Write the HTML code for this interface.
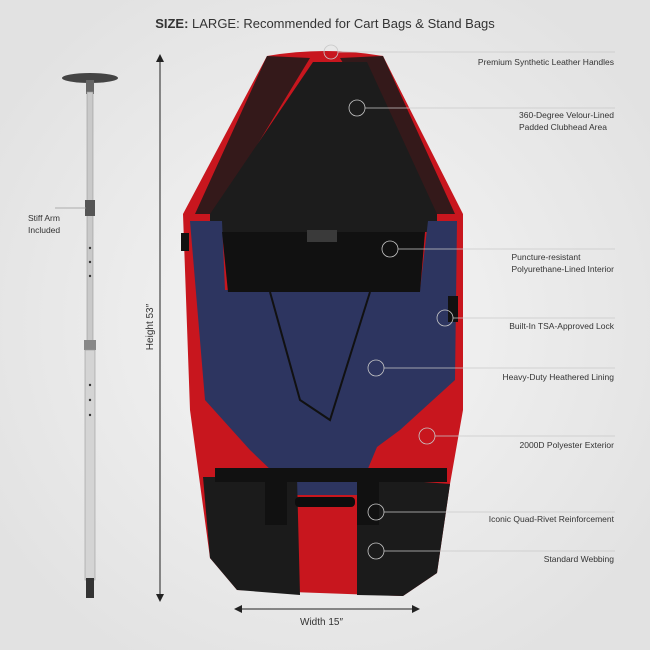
<!DOCTYPE html>
<html><head><style>
body{margin:0;width:650px;height:650px;background:#ebebeb;overflow:hidden;font-family:"Liberation Sans",sans-serif;}
.t{position:absolute;font-size:8.5px;color:#333;line-height:11.5px;right:36px;text-align:left}
</style></head><body>
<svg width="650" height="650" style="position:absolute;left:0;top:0">
<defs><radialGradient id="bg" cx="50%" cy="50%" r="60%"><stop offset="0" stop-color="#f6f6f6"/><stop offset="1" stop-color="#e2e2e2"/></radialGradient></defs>
<rect width="650" height="650" fill="url(#bg)"/>
<!-- pole -->
<ellipse cx="90" cy="78" rx="28" ry="5" fill="#444"/>
<rect x="86" y="80" width="8" height="14" fill="#666"/>
<rect x="87" y="92" width="6" height="250" fill="#c9c9c9" stroke="#999" stroke-width="0.6"/>
<rect x="85" y="200" width="10" height="16" fill="#555"/>
<rect x="84" y="340" width="12" height="10" fill="#888"/>
<rect x="85" y="350" width="10" height="230" fill="#d4d4d4" stroke="#999" stroke-width="0.6"/>
<rect x="86" y="578" width="8" height="20" fill="#333"/>
<g fill="#333"><circle cx="90" cy="248" r="1.2"/><circle cx="90" cy="262" r="1.2"/><circle cx="90" cy="276" r="1.2"/><circle cx="90" cy="385" r="1.2"/><circle cx="90" cy="400" r="1.2"/><circle cx="90" cy="415" r="1.2"/></g>
<line x1="55" y1="208" x2="86" y2="208" stroke="#999" stroke-width="0.7"/>
<!-- height arrow -->
<line x1="160" y1="56" x2="160" y2="600" stroke="#222" stroke-width="1"/>
<path d="M156,62 L160,54 L164,62Z M156,594 L160,602 L164,594Z" fill="#222"/>
<!-- width arrow -->
<line x1="236" y1="609" x2="418" y2="609" stroke="#222" stroke-width="1"/>
<path d="M242,605 L234,609 L242,613Z M412,605 L420,609 L412,613Z" fill="#222"/>
<!-- bag -->
<path d="M267,56 Q325,46 383,56 L463,214 L463,410 L450,484 L437,573 L403,596 L237,590 L210,558 L190,410 L183,214Z" fill="#c8161e"/>
<path d="M267,56 L310,58 L215,214 L195,214Z M383,56 L340,58 L435,214 L455,214Z" fill="#1a1a1a" opacity="0.85"/>
<path d="M313,62 L367,62 L437,214 L437,232 L210,232 L210,214Z" fill="#1c1c1c"/>
<path d="M190,221 L222,221 L225,290 L420,290 L428,221 L457,221 L455,380 L400,430 L377,447 L357,495 L297,495 L250,450 L205,400Z" fill="#2d3560"/>
<path d="M222,232 L425,232 L420,292 L228,292Z" fill="#111"/>
<rect x="307" y="230" width="30" height="12" fill="#3a3a3a"/>
<path d="M270,292 L300,400 L330,420 L370,292" fill="none" stroke="#111" stroke-width="2"/>
<path d="M203,477 L297,477 L300,595 L237,590 L210,558Z M357,477 L450,484 L437,573 L403,596 L357,595Z" fill="#1b1b1b"/>
<rect x="215" y="468" width="232" height="14" fill="#111"/>
<rect x="265" y="480" width="22" height="45" fill="#111"/>
<rect x="357" y="480" width="22" height="45" fill="#111"/>
<rect x="295" y="497" width="60" height="10" rx="4" fill="#0d0d0d"/>
<rect x="181" y="233" width="8" height="18" fill="#111"/>
<rect x="448" y="296" width="10" height="26" fill="#111"/>
<!-- callouts -->
<g stroke="#c8c8c8" stroke-width="0.8" fill="none">
<circle cx="331" cy="52" r="7"/><line x1="338" y1="52" x2="615" y2="52"/>
<circle cx="357" cy="108" r="8"/><line x1="365" y1="108" x2="615" y2="108"/>
<circle cx="390" cy="249" r="8"/><line x1="398" y1="249" x2="615" y2="249"/>
<circle cx="445" cy="318" r="8"/><line x1="453" y1="318" x2="615" y2="318"/>
<circle cx="376" cy="368" r="8"/><line x1="384" y1="368" x2="615" y2="368"/>
<circle cx="427" cy="436" r="8"/><line x1="435" y1="436" x2="615" y2="436"/>
<circle cx="376" cy="512" r="8"/><line x1="384" y1="512" x2="615" y2="512"/>
<circle cx="376" cy="551" r="8"/><line x1="384" y1="551" x2="615" y2="551"/>
</g>
<text x="153" y="327" transform="rotate(-90 153 327)" text-anchor="middle" font-family="Liberation Sans" font-size="10" fill="#333">Height 53″</text>
</svg>
<div style="position:absolute;top:16px;left:0;width:650px;text-align:center;font-size:13px;color:#333"><b>SIZE:</b> LARGE: Recommended for Cart Bags &amp; Stand Bags</div>
<div class="t" style="top:57px">Premium Synthetic Leather Handles</div>
<div class="t" style="top:110px">360-Degree Velour-Lined<br>Padded Clubhead Area</div>
<div class="t" style="top:252px">Puncture-resistant<br>Polyurethane-Lined Interior</div>
<div class="t" style="top:321px">Built-In TSA-Approved Lock</div>
<div class="t" style="top:372px">Heavy-Duty Heathered Lining</div>
<div class="t" style="top:440px">2000D Polyester Exterior</div>
<div class="t" style="top:514px">Iconic Quad-Rivet Reinforcement</div>
<div class="t" style="top:554px">Standard Webbing</div>
<div class="t" style="left:28px;right:auto;top:213px">Stiff Arm<br>Included</div>
<div style="position:absolute;left:300px;top:617px;font-size:10px;color:#333">Width 15″</div>
</body></html>
